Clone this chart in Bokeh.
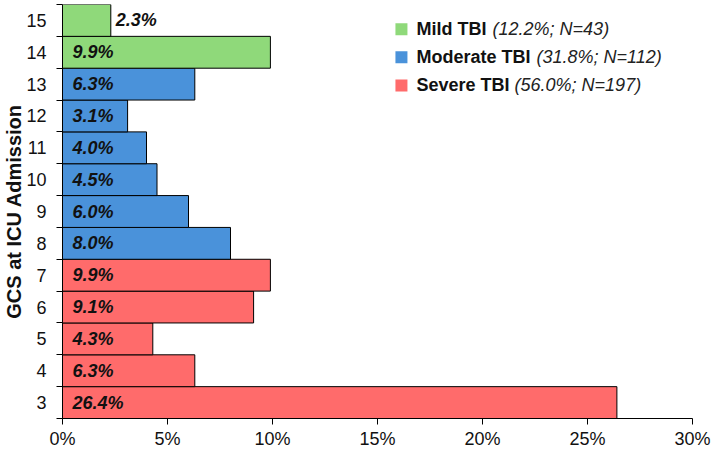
from bokeh.plotting import figure
from bokeh.models import ColumnDataSource, FixedTicker, PrintfTickFormatter, Range1d
from bokeh.core.properties import value
from bokeh.embed import file_html
from bokeh.resources import INLINE

# ---- data ----
gcs = [3, 4, 5, 6, 7, 8, 9, 10, 11, 12, 13, 14, 15]
pct = [26.4, 6.3, 4.3, 9.1, 9.9, 8.0, 6.0, 4.5, 4.0, 3.1, 6.3, 9.9, 2.3]
severity = ["Severe", "Severe", "Severe", "Severe", "Severe",
            "Moderate", "Moderate", "Moderate", "Moderate", "Moderate", "Moderate",
            "Mild", "Mild"]
groups = ["Mild", "Moderate", "Severe"]
group_names = ["Mild TBI", "Moderate TBI", "Severe TBI"]
group_stats = ["(12.2%; N=43)", "(31.8%; N=112)", "(56.0%; N=197)"]
x_ticks = [0, 5, 10, 15, 20, 25, 30]

colors = {"Mild": "#8FD97A", "Moderate": "#4A92DA", "Severe": "#FF6B6B"}
FONT = "Liberation Sans"

p = figure(width=715, height=451, output_backend="svg", toolbar_location=None,
           x_range=Range1d(0, 30), y_range=Range1d(2.5, 15.5),
           min_border_left=62, min_border_right=23, min_border_top=4,
           min_border_bottom=32)
p.outline_line_color = None
p.xgrid.grid_line_color = None
p.ygrid.grid_line_color = None
p.background_fill_color = "white"
p.border_fill_color = "white"

src = ColumnDataSource(dict(
    y=gcs, x=pct,
    color=[colors[s] for s in severity],
    label=[f"{v:.1f}%" for v in pct],
    lx=[v if v < 2.5 else 0 for v in pct],
    off=[5 if v < 2.5 else 10 for v in pct],
))

p.hbar(y="y", left=0, right="x", height=1, source=src, fill_color="color",
       line_color="black", line_width=1)

p.text(x="lx", y="y", text="label", x_offset="off", source=src,
       text_font=value(FONT), text_font_size="18px", text_font_style="bold italic",
       text_baseline="middle", text_align="left", text_color="#111111")

# legend drawn manually (mixed bold / italic text)
leg_x_sq = 16.14
leg_x_txt = 16.86
leg_y = [14.72, 13.84, 12.96]
italic_off = [76, 120, 98]
p.scatter(x=[leg_x_sq] * 3, y=leg_y, marker="square", size=12,
          fill_color=[colors[g] for g in groups], line_color=None)
p.text(x=[leg_x_txt] * 3, y=leg_y, text=group_names,
       text_font=value(FONT), text_font_size="18px", text_font_style="bold",
       text_baseline="middle", text_align="left", text_color="#111111")
p.text(x=[leg_x_txt] * 3, y=leg_y, text=group_stats, x_offset=italic_off,
       text_font=value(FONT), text_font_size="18px", text_font_style="italic",
       text_baseline="middle", text_align="left", text_color="#222222")

# x axis
xa = p.xaxis[0]
xa.ticker = FixedTicker(ticks=x_ticks, minor_ticks=[])
xa.formatter = PrintfTickFormatter(format="%d%%")
xa.major_tick_out = 6
xa.major_tick_in = 0
xa.minor_tick_line_color = None
xa.axis_line_color = "black"
xa.major_tick_line_color = "black"
xa.major_label_text_font = FONT
xa.major_label_text_font_size = "18px"
xa.major_label_text_color = "#111111"
xa.major_label_standoff = 4

# y axis
ya = p.yaxis[0]
ya.ticker = FixedTicker(ticks=gcs, minor_ticks=[g - 0.5 for g in gcs] + [gcs[-1] + 0.5])
ya.major_tick_line_color = None
ya.major_tick_out = 0
ya.major_tick_in = 0
ya.minor_tick_out = 6
ya.minor_tick_in = 0
ya.minor_tick_line_color = "black"
ya.axis_line_color = "black"
ya.major_label_text_font = FONT
ya.major_label_text_font_size = "18px"
ya.major_label_text_color = "#111111"
ya.major_label_standoff = 10
ya.axis_label = "GCS at ICU Admission"
ya.axis_label_text_font = FONT
ya.axis_label_text_font_size = "20px"
ya.axis_label_text_font_style = "bold"
ya.axis_label_text_color = "#111111"
ya.axis_label_standoff = -2

open("out.html", "w").write(file_html(p, INLINE))
